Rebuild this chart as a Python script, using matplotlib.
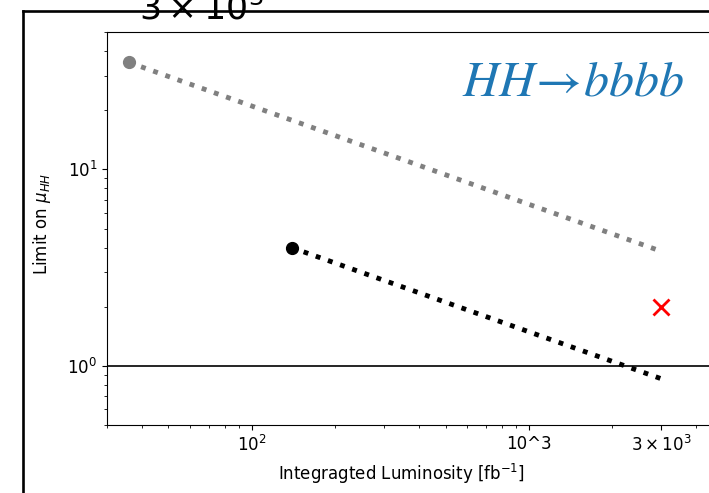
import numpy as np
import matplotlib
matplotlib.use('Agg')
import matplotlib.pyplot as plt
from matplotlib.ticker import FixedLocator, FixedFormatter, LogLocator, NullFormatter

# luminosity points [fb^-1] and the limit on mu_HH at each
lumi_2016 = [36, 3000]
limit_2016 = [35, 3.83]
lumi_run2 = [139, 3000]
limit_run2 = [4.0, 0.86]
lumi_target = [3000]
limit_target = [2.0]

x_ticks = [100, 1000, 3000]
x_ticklabels = [r"$10^{2}$", "10^3", r"$3\times10^{3}$"]

W, H = 709, 493
fig = plt.figure(figsize=(W / 100, H / 100), dpi=100)
fig.patch.set_facecolor("white")

# outer frame
frame = fig.add_axes([23 / W, -0.3, 1.3, (H - 11) / H + 0.3], zorder=0)
frame.set_xticks([])
frame.set_yticks([])
for s in frame.spines.values():
    s.set_linewidth(1.9)

fig.text(201 / W, 1 - 19 / H, r"$3\times10^{3}$", fontsize=25,
         ha="center", va="baseline", zorder=5)

# main axes
left, right, top, bottom = 107, 760, 32, 425
ax = fig.add_axes([left / W, (H - bottom) / H, (right - left) / W, (bottom - top) / H], zorder=2)
ax.set_xscale("log")
ax.set_yscale("log")
ax.set_xlim(30, 6820)
ax.set_ylim(0.5, 50)

ax.plot(lumi_2016, limit_2016, color="grey", linestyle=":", linewidth=3.5)
ax.plot(lumi_2016[:1], limit_2016[:1], "o", color="grey", markersize=8.5)
ax.plot(lumi_run2, limit_run2, color="black", linestyle=":", linewidth=3.5)
ax.plot(lumi_run2[:1], limit_run2[:1], "o", color="black", markersize=8.5)
ax.plot(lumi_target, limit_target, "x", color="red", markersize=12, markeredgewidth=2)
ax.axhline(1, color="black", linewidth=1.2)

ax.xaxis.set_major_locator(FixedLocator(x_ticks))
ax.xaxis.set_major_formatter(FixedFormatter(x_ticklabels))
ax.xaxis.set_minor_locator(LogLocator(base=10, subs=np.arange(2, 10)))
ax.xaxis.set_minor_formatter(NullFormatter())
ax.tick_params(labelsize=12)

ax.set_xlabel(r"Integragted Luminosity [fb$^{-1}$]", fontsize=12)
ax.xaxis.set_label_coords((401 - left) / (right - left), -0.095)
ax.set_ylabel(r"Limit on $\mu_{HH}$", fontsize=12)
ax.yaxis.set_label_coords((53 - left) / (right - left), (bottom - 224) / (bottom - top))

fig.text(462 / W, 1 - 95 / H, r"$HH\!\rightarrow\! bbbb$", fontsize=36,
         color="#1f77b4", math_fontfamily="stix", ha="left", va="baseline", zorder=6)

plt.savefig("out.png", dpi=100, facecolor="white")
plt.close()
